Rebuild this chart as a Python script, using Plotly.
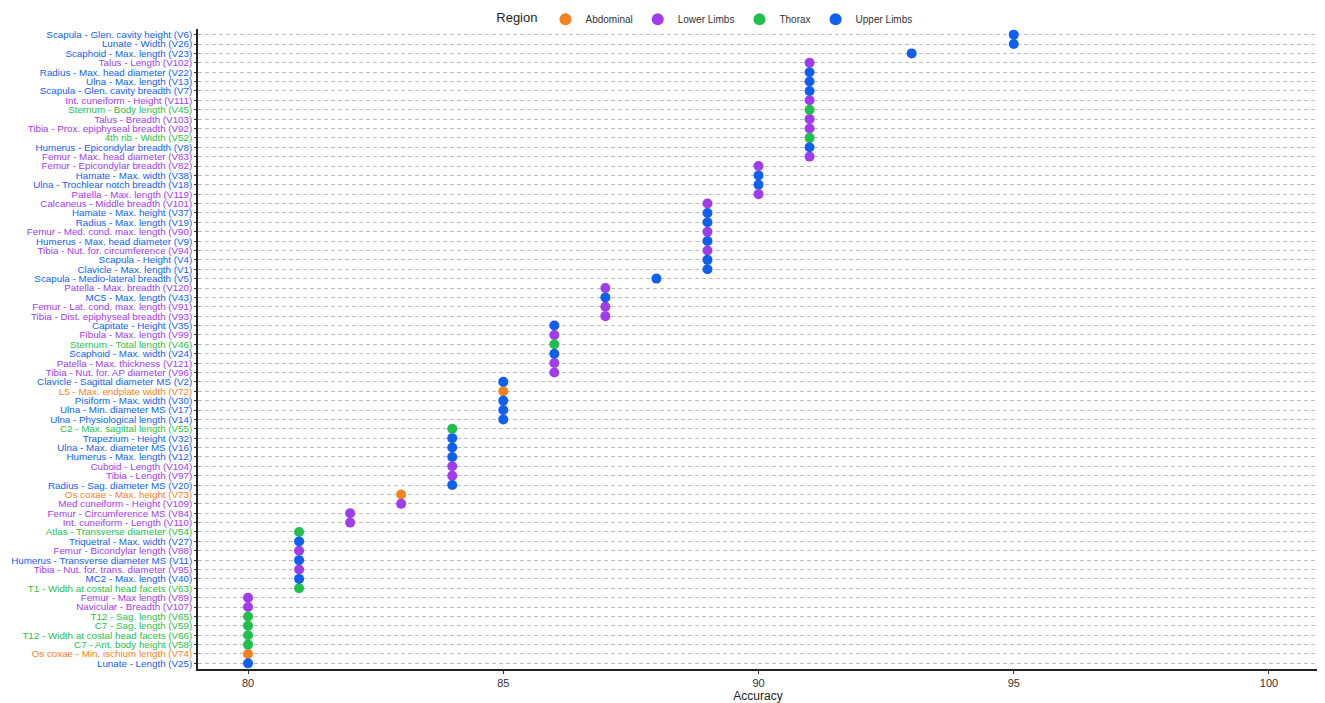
import plotly.graph_objects as go

labels = [
    "Scapula - Glen. cavity height (V6)", "Lunate - Width (V26)", "Scaphoid - Max. length (V23)",
    "Talus - Length (V102)", "Radius - Max. head diameter (V22)", "Ulna - Max. length (V13)",
    "Scapula - Glen. cavity breadth (V7)", "Int. cuneiform - Height (V111)", "Sternum - Body length (V45)",
    "Talus - Breadth (V103)", "Tibia - Prox. epiphyseal breadth (V92)", "4th rib - Width (V52)",
    "Humerus - Epicondylar breadth (V8)", "Femur - Max. head diameter (V83)", "Femur - Epicondylar breadth (V82)",
    "Hamate - Max. width (V38)", "Ulna - Trochlear notch breadth (V18)", "Patella - Max. length (V119)",
    "Calcaneus - Middle breadth (V101)", "Hamate - Max. height (V37)", "Radius - Max. length (V19)",
    "Femur - Med. cond. max. length (V90)", "Humerus - Max. head diameter (V9)", "Tibia - Nut. for. circumference (V94)",
    "Scapula - Height (V4)", "Clavicle - Max. length (V1)", "Scapula - Medio-lateral breadth (V5)",
    "Patella - Max. breadth (V120)", "MC5 - Max. length (V43)", "Femur - Lat. cond. max. length (V91)",
    "Tibia - Dist. epiphyseal breadth (V93)", "Capitate - Height (V35)", "Fibula - Max. length (V99)",
    "Sternum - Total length (V46)", "Scaphoid - Max. width (V24)", "Patella - Max. thickness (V121)",
    "Tibia - Nut. for. AP diameter (V96)", "Clavicle - Sagittal diameter MS (V2)", "L5 - Max. endplate width (V72)",
    "Pisiform - Max. width (V30)", "Ulna - Min. diameter MS (V17)", "Ulna - Physiological length (V14)",
    "C2 - Max. sagittal length (V55)", "Trapezium - Height (V32)", "Ulna - Max. diameter MS (V16)",
    "Humerus - Max. length (V12)", "Cuboid - Length (V104)", "Tibia - Length (V97)",
    "Radius - Sag. diameter MS (V20)", "Os coxae - Max. height (V73)", "Med cuneiform - Height (V109)",
    "Femur - Circumference MS (V84)", "Int. cuneiform - Length (V110)", "Atlas - Transverse diameter (V54)",
    "Triquetral - Max. width (V27)", "Femur - Bicondylar length (V88)", "Humerus - Transverse diameter MS (V11)",
    "Tibia - Nut. for. trans. diameter (V95)", "MC2 - Max. length (V40)", "T1 - Width at costal head facets (V63)",
    "Femur - Max length (V89)", "Navicular - Breadth (V107)", "T12 - Sag. length (V65)",
    "C7 - Sag. length (V59)", "T12 - Width at costal head facets (V66)", "C7 - Ant. body height (V58)",
    "Os coxae - Min. ischium length (V74)", "Lunate - Length (V25)",
]

accuracy = [
    95, 95, 93, 91, 91, 91, 91, 91, 91, 91, 91, 91, 91, 91,
    90, 90, 90, 90,
    89, 89, 89, 89, 89, 89, 89, 89,
    88,
    87, 87, 87, 87,
    86, 86, 86, 86, 86, 86,
    85, 85, 85, 85, 85,
    84, 84, 84, 84, 84, 84, 84,
    83, 83,
    82, 82,
    81, 81, 81, 81, 81, 81, 81,
    80, 80, 80, 80, 80, 80, 80, 80,
]

U, L, T, A = "Upper Limbs", "Lower Limbs", "Thorax", "Abdominal"
region = [
    U, U, U, L, U, U, U, L, T, L, L, T, U, L,
    L, U, U, L,
    L, U, U, L, U, L, U, U,
    U,
    L, U, L, L,
    U, L, T, U, L, L,
    U, A, U, U, U,
    T, U, U, U, L, L, U,
    A, L,
    L, L,
    T, U, L, U, L, U, T,
    L, L, T, T, T, T, A, U,
]

region_order = ["Abdominal", "Lower Limbs", "Thorax", "Upper Limbs"]
region_colors = {
    "Abdominal": "#F5821F",
    "Lower Limbs": "#A03CEB",
    "Thorax": "#1FBF4C",
    "Upper Limbs": "#0F5FF0",
}

fig = go.Figure()
for r in region_order:
    xs = [a for a, g in zip(accuracy, region) if g == r]
    ys = [l for l, g in zip(labels, region) if g == r]
    fig.add_trace(go.Scatter(
        x=xs, y=ys, mode="markers", name=r,
        marker=dict(color=region_colors[r], size=10, line=dict(width=0)),
    ))

ticktext = [f"<span style='color:{region_colors[g]}'>{l}</span>" for l, g in zip(labels, region)]

fig.update_layout(
    width=1325, height=703,
    paper_bgcolor="white", plot_bgcolor="white",
    margin=dict(l=190, r=15, t=21, b=42, autoexpand=False),
    font=dict(family="Liberation Sans, Arial, sans-serif", size=10, color="#333333"),
    legend=dict(
        orientation="h", xref="container", x=0.367, xanchor="left",
        yref="container", y=0.984, yanchor="middle",
        title=dict(text="Region", font=dict(size=13, color="#222222")),
        font=dict(size=10, color="#333333"),
        itemsizing="constant", itemwidth=30, tracegroupgap=0,
        bgcolor="rgba(0,0,0,0)",
    ),
    showlegend=True,
)

fig.update_xaxes(
    range=[79.02, 100.96], tickvals=[80, 85, 90, 95, 100],
    showgrid=False, zeroline=False,
    showline=True, linecolor="#222222", linewidth=1.5,
    ticks="outside", ticklen=3, tickcolor="#333333",
    tickfont=dict(size=11, color="#333333"),
    title=dict(text="Accuracy", font=dict(size=12, color="#222222"), standoff=2),
)

fig.update_yaxes(
    type="category", categoryorder="array", categoryarray=labels,
    range=[len(labels) - 0.4, -0.6],
    tickmode="array", tickvals=labels, ticktext=ticktext,
    tickfont=dict(size=9.8),
    showgrid=True, gridcolor="#BDBDBD", gridwidth=1, griddash="4px,3px",
    zeroline=False,
    showline=True, linecolor="#222222", linewidth=1.5,
    ticks="outside", ticklen=2, tickcolor="#333333",
)

fig.write_html("out.html")
